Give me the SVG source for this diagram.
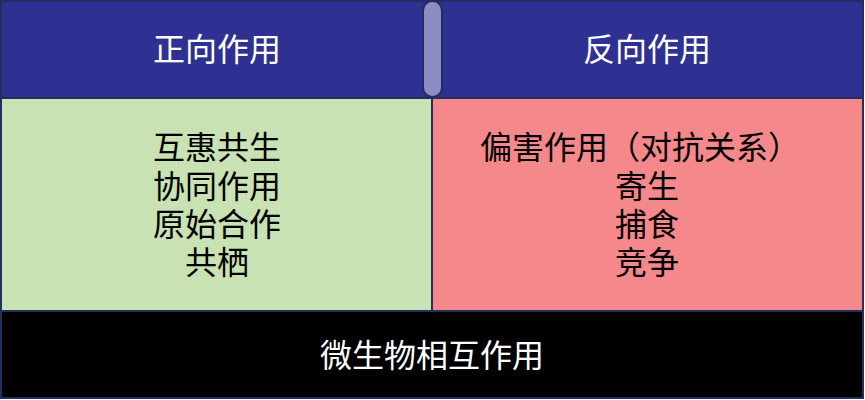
<svg xmlns="http://www.w3.org/2000/svg" width="865" height="400" viewBox="0 0 865 400">
<style>
.t{font-family:"Noto Sans CJK SC","Noto Sans",sans-serif;font-size:32px;text-anchor:middle}
.w{fill:#ffffff}
.k{fill:#000000}
.b{stroke:#1f2f5e;stroke-width:2}
</style>
<rect x="0" y="0" width="865" height="400" fill="#ffffff"/>
<g id="header">
<rect class="b" x="1" y="1" width="862" height="97" fill="#2e3192"/>
<text class="t w" x="217" y="61">正向作用</text>
<text class="t w" x="647" y="61">反向作用</text>
</g>
<g id="positive">
<rect class="b" x="1" y="98" width="431" height="213" fill="#c8e2b3"/>
<text class="t k" x="217" y="159"><tspan x="217" y="159">互惠共生</tspan><tspan x="217" y="198">协同作用</tspan><tspan x="217" y="236">原始合作</tspan><tspan x="217" y="274">共栖</tspan></text>
</g>
<g id="negative">
<rect class="b" x="432" y="98" width="431" height="213" fill="#f5888b"/>
<text class="t k" x="640" y="159"><tspan x="640" y="159">偏害作用（对抗关系）</tspan><tspan x="647" y="198">寄生</tspan><tspan x="647" y="236">捕食</tspan><tspan x="647" y="274">竞争</tspan></text>
</g>
<g id="base">
<rect class="b" x="1" y="311" width="862" height="87" fill="#000000"/>
<text class="t w" x="432" y="367">微生物相互作用</text>
</g>
<g id="divider">
<rect class="b" x="423" y="1" width="19" height="96" rx="9.5" fill="#8b8dc4"/>
</g>
</svg>
